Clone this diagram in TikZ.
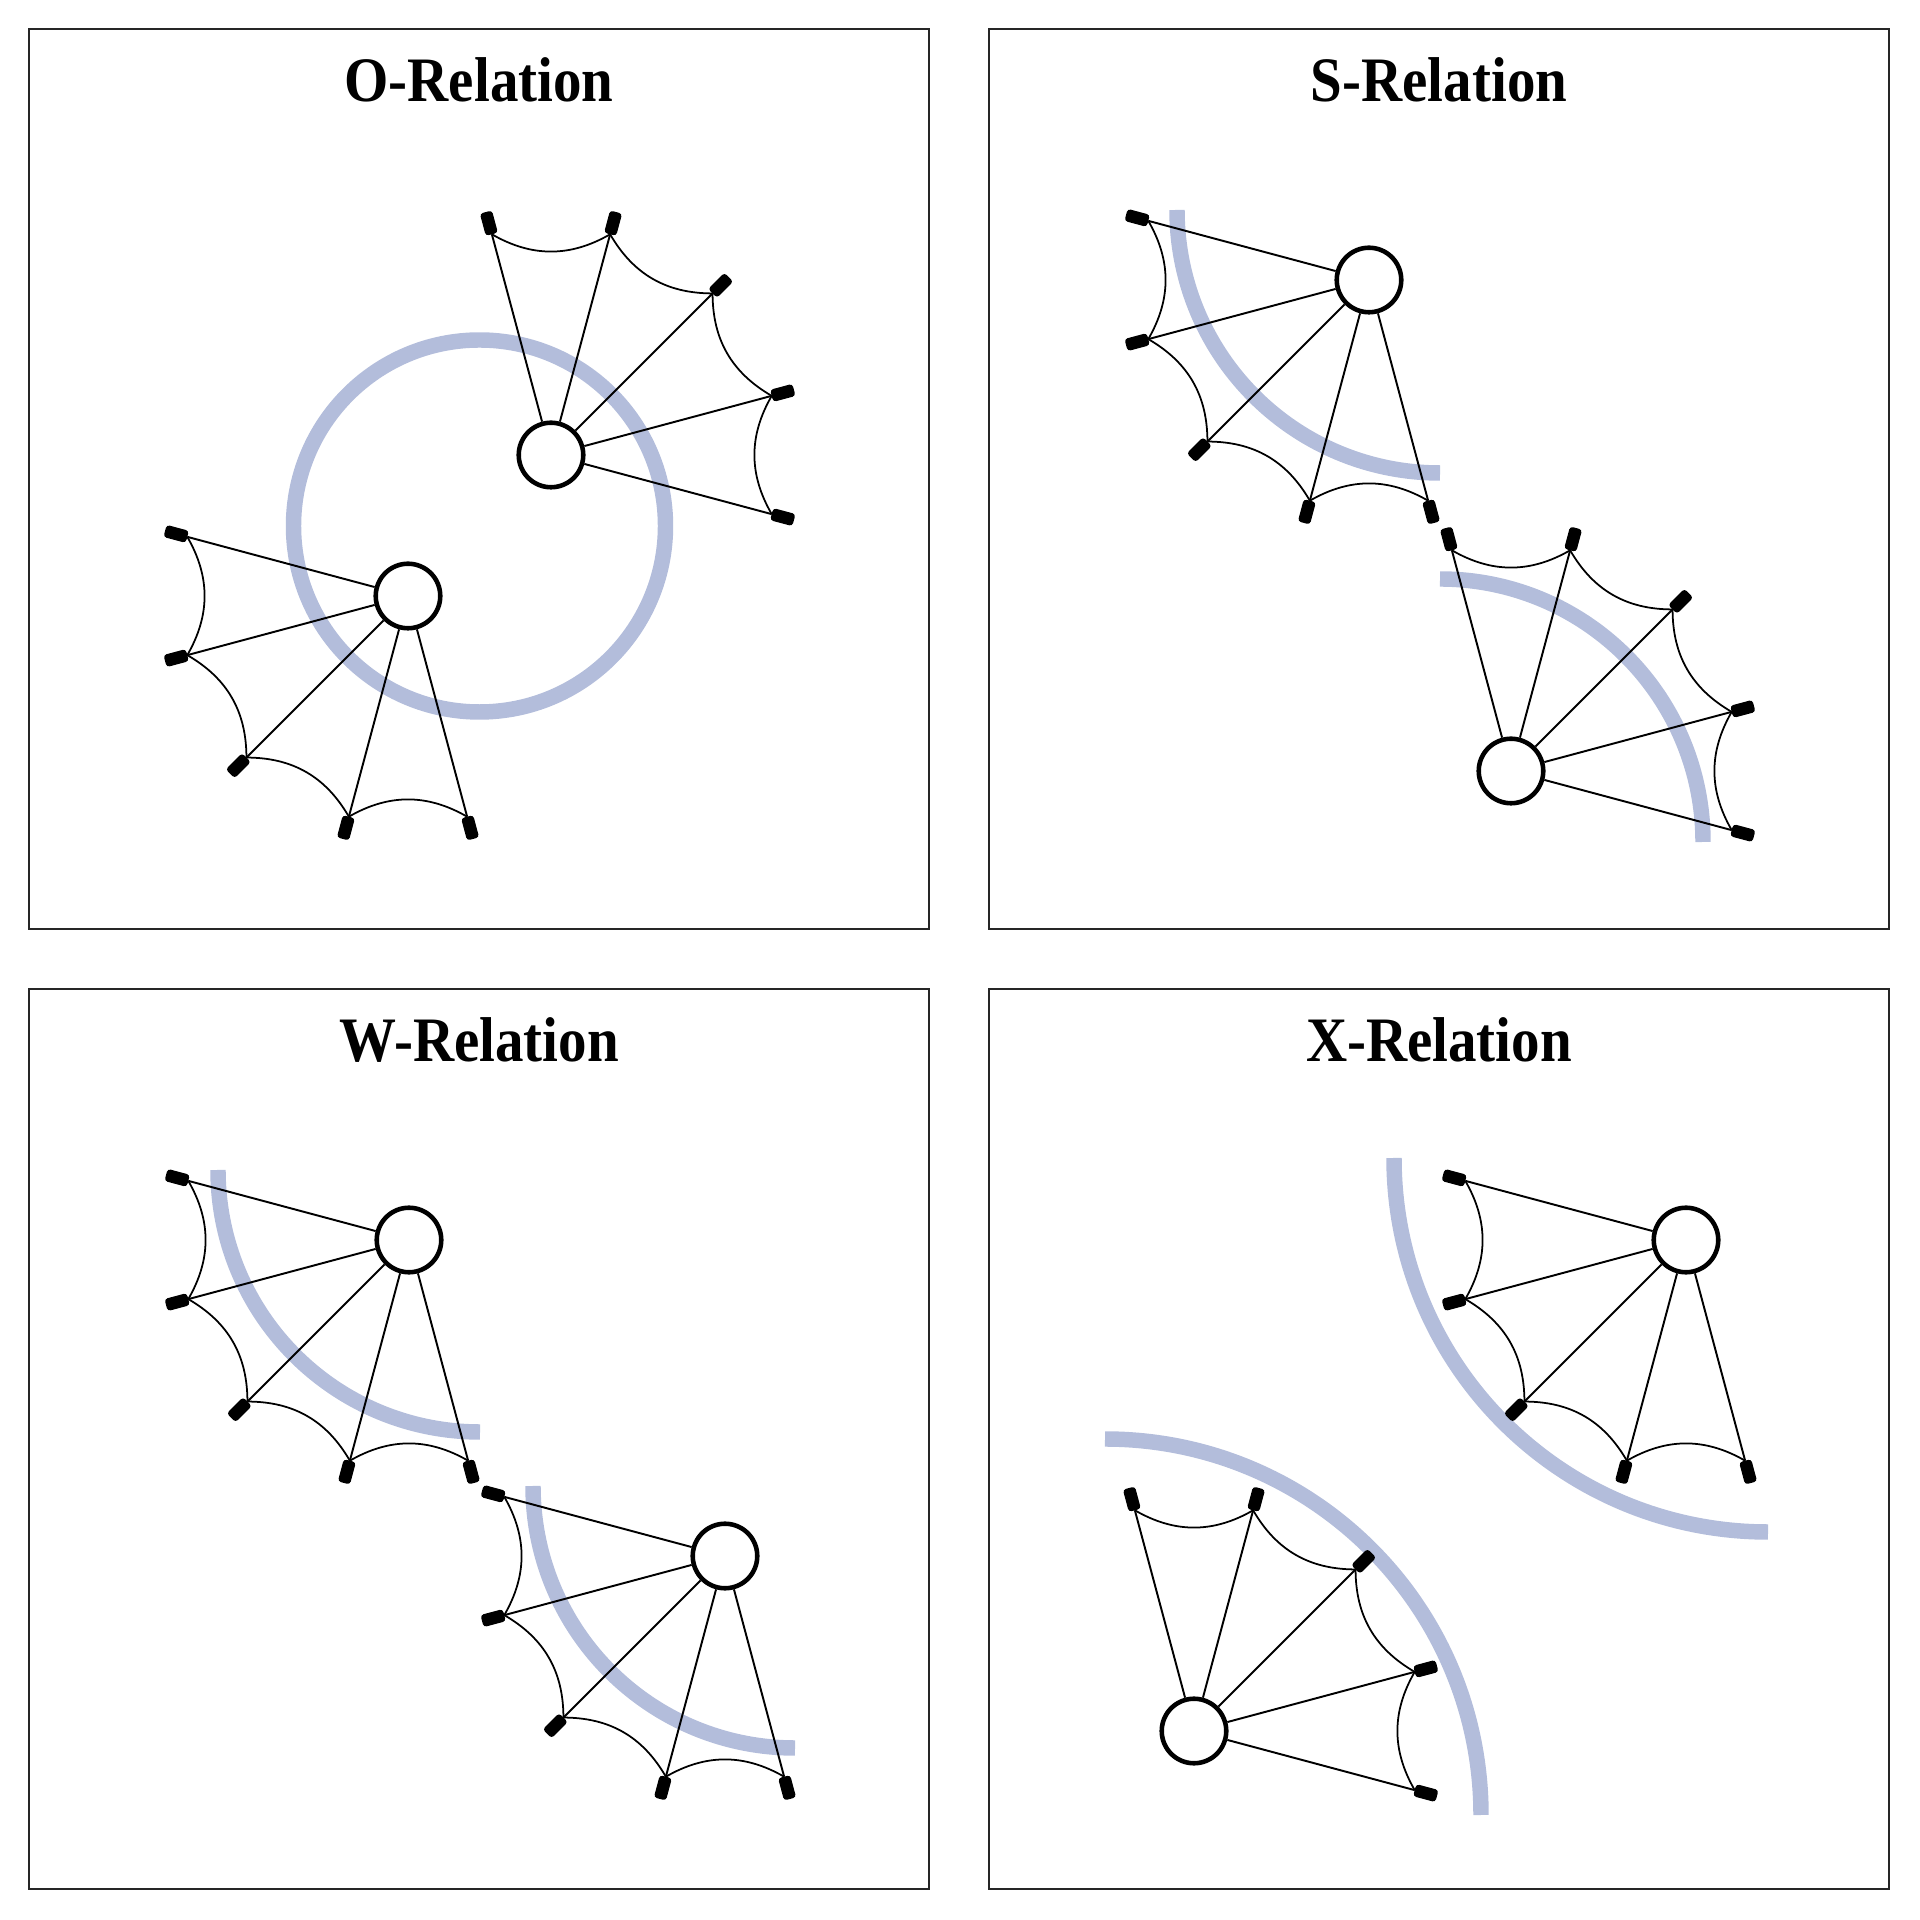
\documentclass[tikz,border=0pt]{standalone}
\usepackage{fontspec}
\newfontfamily\titlefont[FakeStretch=0.9]{Liberation Serif}
\definecolor{bandblue}{RGB}{179,189,219}
\tikzset{
  hubnode/.style={circle, draw, line width=1.3pt, fill=white, minimum size=0.645cm, inner sep=0pt},
  tabnode/.style={rectangle, fill=black, rounded corners=0.9pt, minimum width=0.23cm, minimum height=0.125cm, inner sep=0pt, outer sep=0pt},
  spoke/.style={line width=0.55pt},
  web/.style={line width=0.5pt},
  band/.style={draw=bandblue, line width=4.4pt},
  frame/.style={draw=black!85, line width=0.5pt},
  title/.style={font=\titlefont\bfseries\fontsize{18}{20}\selectfont, anchor=base, inner sep=0pt},
  fan/.pic={
    \node[hubnode] (-hub) at (0,0) {};
    \foreach \i/\a in {1/-60,2/-30,3/0,4/30,5/60} {
      \node[tabnode, rotate=#1+\a] (-t\i) at (#1+\a:240) {};
      \draw[spoke] (-hub) -- (-t\i.west);
    }
    \foreach \i/\j in {1/2,2/3,3/4,4/5} {
      \draw[web] (-t\i.west) to[bend left=30] (-t\j.west);
    }
  }
}
\begin{document}
\begin{tikzpicture}[x=0.01cm,y=0.01cm]
\useasboundingbox (0,0) rectangle (1920,1920);
% frames
\draw[frame] (29,991) rectangle (929,1891);
\draw[frame] (989,991) rectangle (1889,1891);
\draw[frame] (29,31) rectangle (929,931);
\draw[frame] (989,31) rectangle (1889,931);
% bands
\draw[band] (479.5,1394) circle[radius=186];
\draw[band] (1440,1710) ++(180:263) arc[start angle=180, end angle=270, radius=263];
\draw[band] (1440,1078) ++(0:263) arc[start angle=0, end angle=90, radius=263];
\draw[band] (480,750) ++(180:262) arc[start angle=180, end angle=270, radius=262];
\draw[band] (795,434) ++(180:262) arc[start angle=180, end angle=270, radius=262];
\draw[band] (1768,762) ++(180:374) arc[start angle=180, end angle=270, radius=374];
\draw[band] (1105,105) ++(0:376) arc[start angle=0, end angle=90, radius=376];
% fans
\pic (A) at (408,1324) {fan=225};
\pic (B) at (551,1465) {fan=45};
\pic (C) at (1369,1640) {fan=225};
\pic (D) at (1511,1149) {fan=45};
\pic (E) at (409,680) {fan=225};
\pic (F) at (725,364) {fan=225};
\pic (G) at (1686,680) {fan=225};
\pic (H) at (1194,189) {fan=45};
% titles
\node[title] (tO) at (479,1818) {O-Relation};
\node[title] (tS) at (1439,1818) {S-Relation};
\node[title] (tW) at (479,858) {W-Relation};
\node[title] (tX) at (1439,858) {X-Relation};
\end{tikzpicture}
\end{document}
